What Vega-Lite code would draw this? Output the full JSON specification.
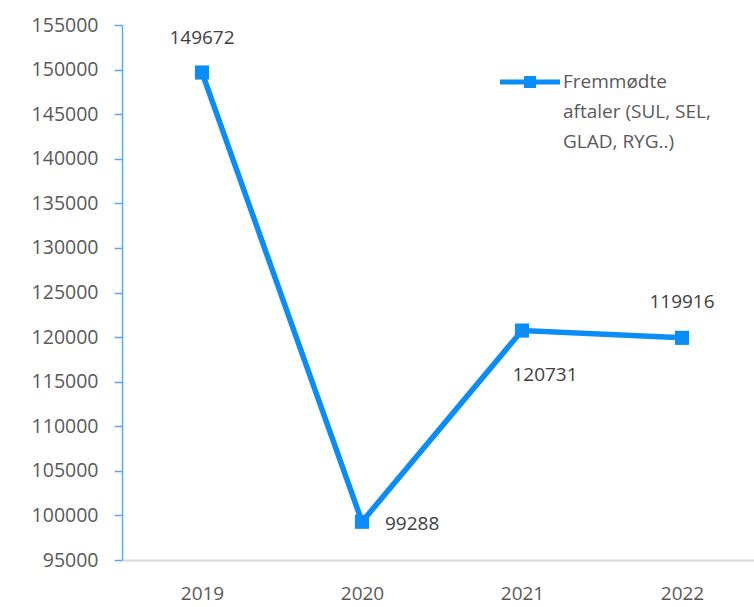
{
  "$schema": "https://vega.github.io/schema/vega-lite/v6.json",
  "width": 632,
  "height": 535,
  "autosize": "none",
  "padding": {"left": 122, "top": 25, "right": 0, "bottom": 47},
  "background": "white",
  "config": {
    "view": {"stroke": null},
    "font": "Open Sans",
    "style": {"guide-label": {"lineHeight": 30}}
  },
  "data": {
    "values": [
      {"year": "2019", "value": 149672, "series": "Fremmødte aftaler (SUL, SEL, GLAD, RYG..)"},
      {"year": "2020", "value": 99288, "series": "Fremmødte aftaler (SUL, SEL, GLAD, RYG..)"},
      {"year": "2021", "value": 120731, "series": "Fremmødte aftaler (SUL, SEL, GLAD, RYG..)"},
      {"year": "2022", "value": 119916, "series": "Fremmødte aftaler (SUL, SEL, GLAD, RYG..)"}
    ]
  },
  "encoding": {
    "x": {
      "field": "year",
      "type": "ordinal",
      "scale": {"type": "point", "range": [0, 640], "padding": 0.5},
      "axis": {
        "title": null,
        "labelAngle": 0,
        "domainColor": "#D9D9D9",
        "domainWidth": 2,
        "ticks": false,
        "labelPadding": 24,
        "labelFontSize": 19,
        "labelColor": "#595959",
        "grid": false
      }
    },
    "y": {
      "field": "value",
      "type": "quantitative",
      "scale": {"domain": [95000, 155000], "nice": false, "zero": false},
      "axis": {
        "title": null,
        "values": [95000, 100000, 105000, 110000, 115000, 120000, 125000, 130000, 135000, 140000, 145000, 150000, 155000],
        "format": "d",
        "grid": false,
        "domainColor": "#55AAFF",
        "domainWidth": 1.5,
        "tickColor": "#55AAFF",
        "tickWidth": 1.5,
        "tickSize": 8,
        "labelPadding": 16,
        "labelFontSize": 19.5,
        "labelColor": "#595959"
      }
    }
  },
  "layer": [
    {
      "mark": {"type": "line", "strokeWidth": 5.5},
      "encoding": {
        "color": {
          "field": "series",
          "type": "nominal",
          "scale": {"range": ["#0B8DF7"]},
          "legend": {
            "title": null,
            "orient": "none",
            "legendX": 378,
            "legendY": 27,
            "symbolType": "M-1,-0.08H1V0.08H-1Z M-0.2,-0.2H0.2V0.2H-0.2Z",
            "symbolSize": 3600,
            "symbolFillColor": "#0B8DF7",
            "symbolStrokeWidth": 0,
            "labelFontSize": 19,
            "labelColor": "#595959",
            "labelBaseline": "middle",
            "labelOffset": 3,
            "labelLimit": 300,
            "labelExpr": "['Fremmødte', 'aftaler (SUL, SEL,', 'GLAD, RYG..)']"
          }
        }
      }
    },
    {
      "mark": {"type": "point", "shape": "square", "filled": true, "size": 200, "opacity": 1, "color": "#0B8DF7"}
    },
    {
      "transform": [{"filter": "datum.year == '2019'"}],
      "mark": {"type": "text", "dy": -35, "fontSize": 19, "color": "#404040", "align": "center", "baseline": "middle"},
      "encoding": {"text": {"field": "value", "type": "quantitative", "format": "d"}}
    },
    {
      "transform": [{"filter": "datum.year == '2020'"}],
      "mark": {"type": "text", "dx": 23, "dy": 2, "fontSize": 19, "color": "#404040", "align": "left", "baseline": "middle"},
      "encoding": {"text": {"field": "value", "type": "quantitative", "format": "d"}}
    },
    {
      "transform": [{"filter": "datum.year == '2021'"}],
      "mark": {"type": "text", "dx": 23, "dy": 44, "fontSize": 19, "color": "#404040", "align": "center", "baseline": "middle"},
      "encoding": {"text": {"field": "value", "type": "quantitative", "format": "d"}}
    },
    {
      "transform": [{"filter": "datum.year == '2022'"}],
      "mark": {"type": "text", "dy": -36, "fontSize": 19, "color": "#404040", "align": "center", "baseline": "middle"},
      "encoding": {"text": {"field": "value", "type": "quantitative", "format": "d"}}
    }
  ]
}
